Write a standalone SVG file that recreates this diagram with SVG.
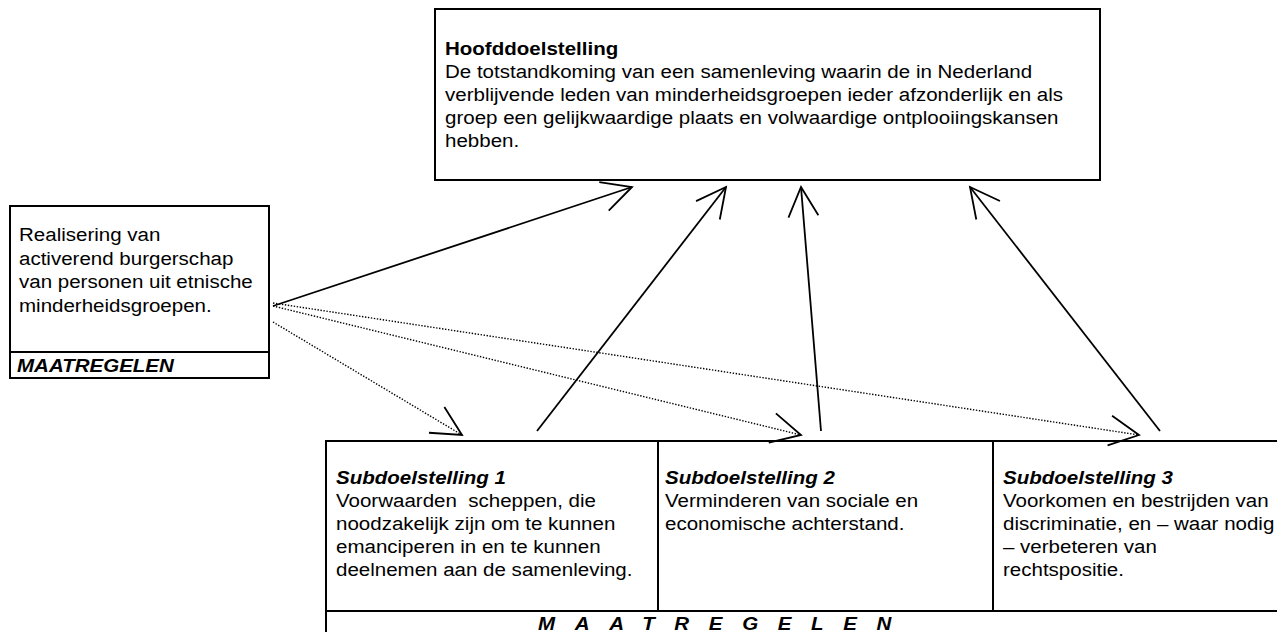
<svg xmlns="http://www.w3.org/2000/svg" width="1277" height="632" viewBox="0 0 1277 632">
<style>
.box{fill:#fff;stroke:#000;stroke-width:2}
.ln{fill:none;stroke:#000;stroke-width:2}
.t{font-family:"Liberation Sans",Arial,sans-serif;font-size:19px;fill:#000}
.b{font-weight:bold}
.bi{font-weight:bold;font-style:italic}
.solid{fill:none;stroke:#000;stroke-width:1.8}
.dot{fill:none;stroke:#000;stroke-width:1.4;stroke-dasharray:1.4 1.6}
</style>
<defs>
<marker id="ah" markerUnits="userSpaceOnUse" markerWidth="40" markerHeight="40" viewBox="-35 -20 40 40" refX="0" refY="0" orient="auto" overflow="visible">
<path d="M-29.5,-15 L0,0 L-29.5,15" fill="none" stroke="#000" stroke-width="1.8" stroke-dasharray="none"/>
</marker>
</defs>

<g id="hoofddoel">
<rect class="box" x="435" y="9" width="665" height="171"/>
<text class="t" transform="translate(445,0) scale(1.08,1)">
<tspan class="b" x="0" y="55">Hoofddoelstelling</tspan>
<tspan x="0" y="78">De totstandkoming van een samenleving waarin de in Nederland</tspan>
<tspan x="0" y="101">verblijvende leden van minderheidsgroepen ieder afzonderlijk en als</tspan>
<tspan x="0" y="124">groep een gelijkwaardige plaats en volwaardige ontplooiingskansen</tspan>
<tspan x="0" y="147">hebben.</tspan>
</text>
</g>

<g id="burgerschap">
<rect class="box" x="10" y="206" width="259" height="172"/>
<line class="ln" x1="10" y1="352" x2="269" y2="352"/>
<text class="t" transform="translate(19,0) scale(1.08,1)">
<tspan x="0" y="241">Realisering van</tspan>
<tspan x="0" y="265">activerend burgerschap</tspan>
<tspan x="0" y="288">van personen uit etnische</tspan>
<tspan x="0" y="312">minderheidsgroepen.</tspan>
</text>
<text class="t bi" transform="translate(17,372) scale(1.08,1)">MAATREGELEN</text>
</g>

<g id="subdoelen">
<path class="ln" d="M326,640 V441 H1290"/>
<line class="ln" x1="326" y1="611" x2="1290" y2="611"/>
<text class="t bi" transform="translate(538,630) scale(1.08,1)" letter-spacing="18.2">MAATREGELEN</text>
</g>

<g id="sub1">
<text class="t" transform="translate(336,0) scale(1.08,1)">
<tspan class="bi" x="0" y="484">Subdoelstelling 1</tspan>
<tspan x="0" y="507" xml:space="preserve">Voorwaarden  scheppen, die</tspan>
<tspan x="0" y="530">noodzakelijk zijn om te kunnen</tspan>
<tspan x="0" y="553">emanciperen in en te kunnen</tspan>
<tspan x="0" y="576">deelnemen aan de samenleving.</tspan>
</text>
</g>

<g id="sub2">
<line class="ln" x1="658" y1="441" x2="658" y2="611"/>
<text class="t" transform="translate(665,0) scale(1.08,1)">
<tspan class="bi" x="0" y="484">Subdoelstelling 2</tspan>
<tspan x="0" y="507">Verminderen van sociale en</tspan>
<tspan x="0" y="530">economische achterstand.</tspan>
</text>
</g>

<g id="sub3">
<line class="ln" x1="993" y1="441" x2="993" y2="611"/>
<text class="t" transform="translate(1003,0) scale(1.08,1)">
<tspan class="bi" x="0" y="484">Subdoelstelling 3</tspan>
<tspan x="0" y="507">Voorkomen en bestrijden van</tspan>
<tspan x="0" y="530">discriminatie, en – waar nodig</tspan>
<tspan x="0" y="553">– verbeteren van</tspan>
<tspan x="0" y="576">rechtspositie.</tspan>
</text>
</g>

<g id="connectors">
<line class="solid" x1="273" y1="306" x2="632" y2="187" marker-end="url(#ah)"/>
<line class="solid" x1="537" y1="431" x2="726" y2="187" marker-end="url(#ah)"/>
<line class="solid" x1="821" y1="431" x2="801" y2="187" marker-end="url(#ah)"/>
<line class="solid" x1="1160" y1="431" x2="970" y2="187" marker-end="url(#ah)"/>
<line class="dot" x1="273" y1="322" x2="462" y2="435" marker-end="url(#ah)"/>
<line class="dot" x1="273" y1="306" x2="801" y2="435" marker-end="url(#ah)"/>
<line class="dot" x1="273" y1="303" x2="1139" y2="435" marker-end="url(#ah)"/>
</g>
</svg>
